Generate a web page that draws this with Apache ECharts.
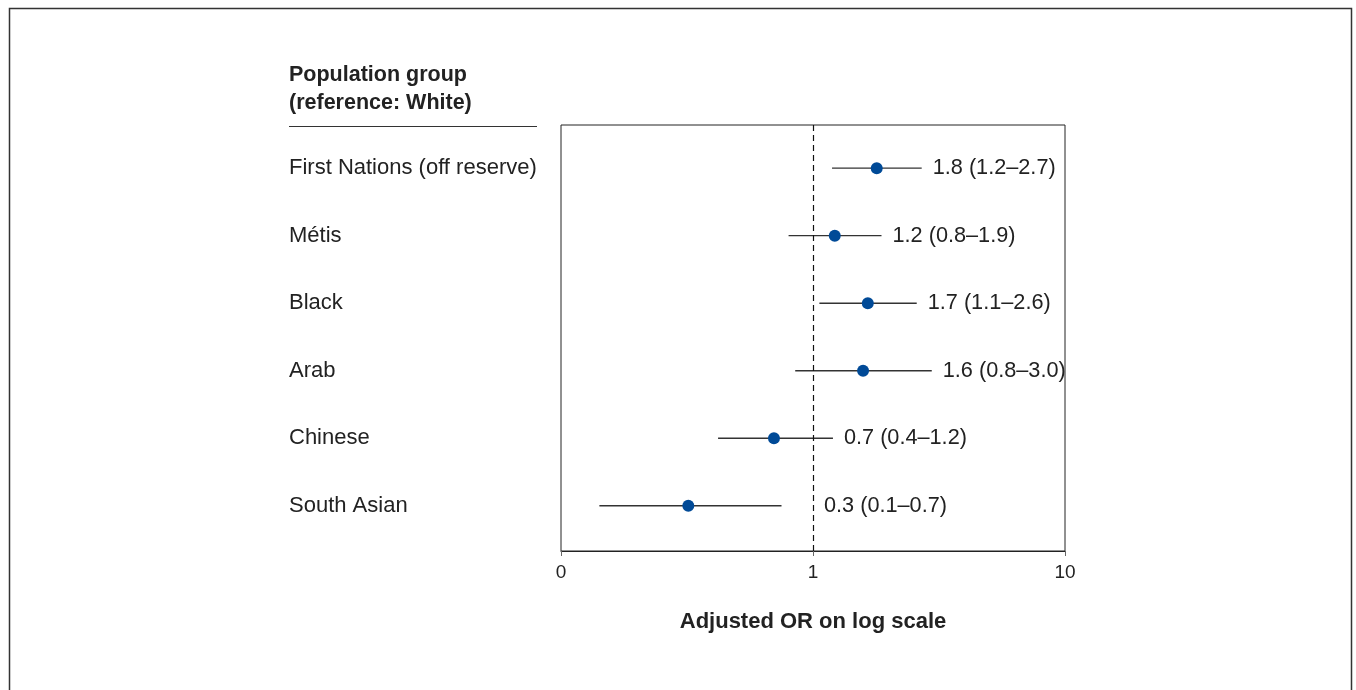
<!DOCTYPE html>
<html>
<head>
<meta charset="utf-8">
<script src="https://cdn.jsdelivr.net/npm/echarts@6/dist/echarts.min.js"></script>
<style>
html,body{margin:0;padding:0;background:#fff;}
#chart{width:1356px;height:690px;}
</style>
</head>
<body>
<div id="chart"></div>
<script>
// Data
const categories = ['First Nations (off reserve)', 'Métis', 'Black', 'Arab', 'Chinese', 'South Asian'];
const oddsRatio = [1.79, 1.22, 1.65, 1.58, 0.70, 0.32];
const ciLower   = [1.19, 0.80, 1.06, 0.85, 0.42, 0.142];
const ciUpper   = [2.70, 1.87, 2.58, 2.96, 1.20, 0.75];
const estimateLabels = ['1.8 (1.2–2.7)', '1.2 (0.8–1.9)', '1.7 (1.1–2.6)', '1.6 (0.8–3.0)', '0.7 (0.4–1.2)', '0.3 (0.1–0.7)'];
const xTickValues = [0.1, 1, 10];
const xTickLabels = ['0', '1', '10'];
const headerLines = ['Population group', '(reference: White)'];
const xAxisTitle = 'Adjusted OR on log scale';

const FONT = '"Liberation Sans", Arial, Helvetica, sans-serif';
const chart = echarts.init(document.getElementById('chart'), null, {renderer: 'canvas'});

const ciData = categories.map((c, i) => [ciLower[i], ciUpper[i], i]);
const pointData = categories.map((c, i) => [oddsRatio[i], i]);
const labelData = categories.map((c, i) => [Math.max(ciUpper[i], 1), i]);

const option = {
  animation: false,
  backgroundColor: '#fff',
  grid: {
    left: 561, right: 291, top: 125, bottom: 139,
    show: true, borderColor: '#222', borderWidth: 1, backgroundColor: 'transparent'
  },
  xAxis: {
    type: 'log', logBase: 10, min: 0.1, max: 10,
    axisLine: {show: true, onZero: false, lineStyle: {color: '#222', width: 1}},
    axisTick: {show: true, length: 5, lineStyle: {color: '#666'}},
    splitLine: {show: false},
    axisLabel: {
      margin: 12, fontSize: 19, color: '#222', fontFamily: FONT,
      formatter: v => {
        const k = xTickValues.findIndex(t => Math.abs(Math.log10(t) - Math.log10(v)) < 1e-6);
        return k >= 0 ? xTickLabels[k] : '';
      }
    },
    name: xAxisTitle, nameLocation: 'middle', nameGap: 60,
    nameTextStyle: {fontSize: 22, fontWeight: 'bold', color: '#222', fontFamily: FONT}
  },
  yAxis: {
    type: 'value', min: -0.64, max: 5.67, inverse: true,
    axisLine: {show: false}, axisTick: {show: false}, splitLine: {show: false},
    axisLabel: {
      show: true, customValues: [0, 1, 2, 3, 4, 5],
      align: 'left', margin: 272, fontSize: 22, color: '#222', fontFamily: FONT,
      formatter: v => categories[Math.round(v)] || ''
    }
  },
  series: [
    {
      type: 'custom', name: 'ci', data: ciData, z: 2,
      encode: {x: [0, 1], y: 2},
      renderItem: (params, api) => {
        const p1 = api.coord([api.value(0), api.value(2)]);
        const p2 = api.coord([api.value(1), api.value(2)]);
        return {type: 'line', shape: {x1: p1[0], y1: p1[1], x2: p2[0], y2: p2[1]},
                style: {stroke: '#333', lineWidth: 1.3}};
      }
    },
    {
      type: 'scatter', name: 'or', data: pointData, z: 3,
      symbol: 'circle', symbolSize: 12,
      itemStyle: {color: '#004a97', opacity: 1},
      markLine: {
        silent: true, symbol: 'none', label: {show: false},
        lineStyle: {color: '#111', type: [6, 4], width: 1.2},
        data: [{xAxis: 1}]
      }
    },
    {
      type: 'custom', name: 'labels', data: labelData, z: 4,
      encode: {x: 0, y: 1},
      renderItem: (params, api) => {
        const p = api.coord([api.value(0), api.value(1)]);
        return {type: 'text', x: p[0] + 11, y: p[1],
                style: {text: estimateLabels[params.dataIndex], fill: '#222', font: '21.7px ' + FONT,
                        textAlign: 'left', textVerticalAlign: 'middle'}};
      }
    }
  ],
  graphic: [
    {type: 'polyline', shape: {points: [[9.5, 690], [9.5, 8.5], [1351.5, 8.5], [1351.5, 690]]},
     style: {stroke: '#333', lineWidth: 1.5, fill: null}},
    {type: 'text', left: 289, top: 61,
     style: {text: headerLines.join('\n'), font: 'bold 21.5px ' + FONT, fill: '#222', lineHeight: 28}},
    {type: 'line', shape: {x1: 289, y1: 126.5, x2: 537, y2: 126.5}, style: {stroke: '#333', lineWidth: 1.2}}
  ]
};
chart.setOption(option);
</script>
</body>
</html>
